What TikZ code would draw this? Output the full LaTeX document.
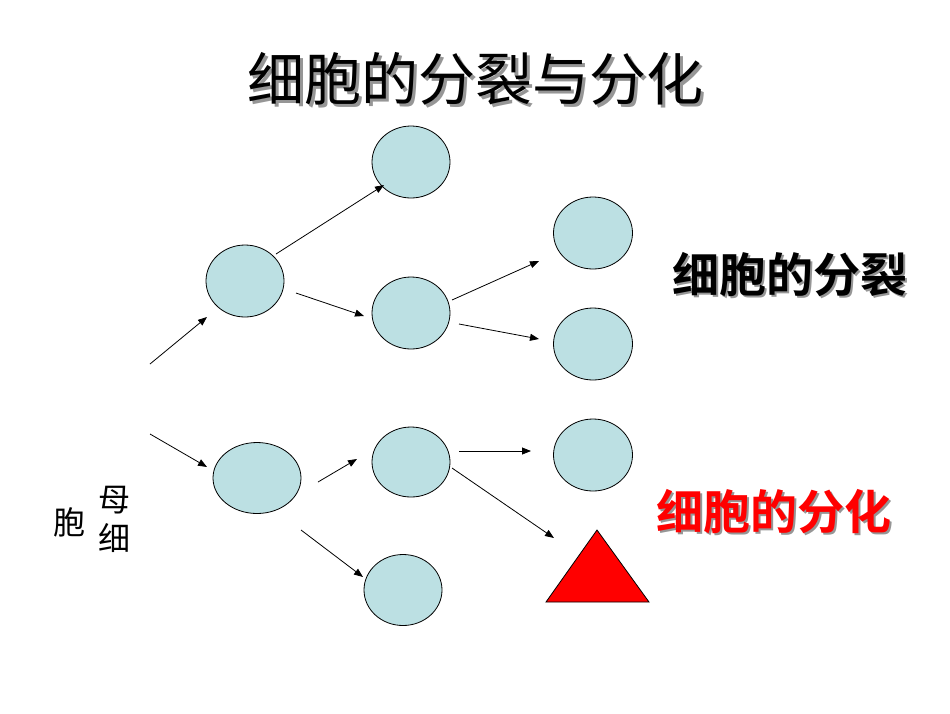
\documentclass[tikz,border=0pt]{standalone}
\usepackage{fontspec}
\newfontfamily\cjk{Noto Sans CJK SC}
\newfontfamily\cjkb{Noto Sans CJK SC Bold}
\usetikzlibrary{arrows.meta,shapes.geometric}
\definecolor{cellfill}{RGB}{188,224,227}
\definecolor{shadowgray}{RGB}{150,150,150}
\begin{document}
\begin{tikzpicture}[x=1pt,y=-1pt,
  cell/.style={draw=black,line width=0.8pt,fill=cellfill,ellipse,inner sep=0pt},
  arr/.style={line width=0.8pt,-{Triangle[length=9pt,width=7pt]}},
  shadowtxt/.style={text=shadowgray}]
\useasboundingbox (0,0) rectangle (950,713);
% title
\node[shadowtxt,font=\cjk\fontsize{57}{60}\selectfont] (titles) at (478,82) {细胞的分裂与分化};
\node[font=\cjk\fontsize{57}{60}\selectfont] (title) at (475,79) {细胞的分裂与分化};
% cells
\node[cell,minimum width=78pt,minimum height=72pt] (e1) at (411,162) {};
\node[cell,minimum width=78pt,minimum height=72pt] (e2) at (245,281) {};
\node[cell,minimum width=78pt,minimum height=72pt] (e3) at (411,313) {};
\node[cell,minimum width=79pt,minimum height=72pt] (e4) at (593,233) {};
\node[cell,minimum width=79pt,minimum height=72pt] (e5) at (593,344) {};
\node[cell,minimum width=79pt,minimum height=72pt] (e6) at (593,455) {};
\node[cell,minimum width=88pt,minimum height=71pt] (e7) at (257,478) {};
\node[cell,minimum width=78pt,minimum height=70pt] (e8) at (411,462) {};
\node[cell,minimum width=78pt,minimum height=71pt] (e9) at (403,590) {};
% triangle
\coordinate (ta) at (597,530);
\coordinate (tl) at (546,602);
\coordinate (tr) at (649,602);
\draw[line width=0.8pt,fill=red] (ta) -- (tl) -- (tr) -- cycle;
% arrow endpoints
\coordinate (a1s) at (150,364); \coordinate (a1e) at (207,317);
\coordinate (a2s) at (150,434); \coordinate (a2e) at (207,467);
\coordinate (a3s) at (276,254); \coordinate (a3e) at (384,185);
\coordinate (a4s) at (296,293); \coordinate (a4e) at (364,316);
\coordinate (a5s) at (452,300); \coordinate (a5e) at (539,261);
\coordinate (a6s) at (459,324); \coordinate (a6e) at (539,339);
\coordinate (a7s) at (318,482); \coordinate (a7e) at (357,459);
\coordinate (a8s) at (301,530); \coordinate (a8e) at (363,577);
\coordinate (a9s) at (459,451); \coordinate (a9e) at (531,451);
\coordinate (a10s) at (452,468); \coordinate (a10e) at (554,538);
\draw[arr] (a1s) -- (a1e);
\draw[arr] (a2s) -- (a2e);
\draw[arr] (a3s) -- (a3e);
\draw[arr] (a4s) -- (a4e);
\draw[arr] (a5s) -- (a5e);
\draw[arr] (a6s) -- (a6e);
\draw[arr] (a7s) -- (a7e);
\draw[arr] (a8s) -- (a8e);
\draw[arr] (a9s) -- (a9e);
\draw[arr] (a10s) -- (a10e);
% side labels
\node[shadowtxt,font=\cjkb\fontsize{47}{50}\selectfont] (l1s) at (792,277) {细胞的分裂};
\node[font=\cjkb\fontsize{47}{50}\selectfont] (l1) at (790,275) {细胞的分裂};
\node[shadowtxt,font=\cjkb\fontsize{47}{50}\selectfont] (l2s) at (776,514) {细胞的分化};
\node[text=red,font=\cjkb\fontsize{47}{50}\selectfont] (l2) at (774,512) {细胞的分化};
% mother cell label
\node[font=\cjk\fontsize{32}{34}\selectfont] (m1) at (114,500) {母};
\node[font=\cjk\fontsize{32}{34}\selectfont] (m2) at (114,538) {细};
\node[font=\cjk\fontsize{32}{34}\selectfont] (m3) at (69,522) {胞};
\end{tikzpicture}
\end{document}
